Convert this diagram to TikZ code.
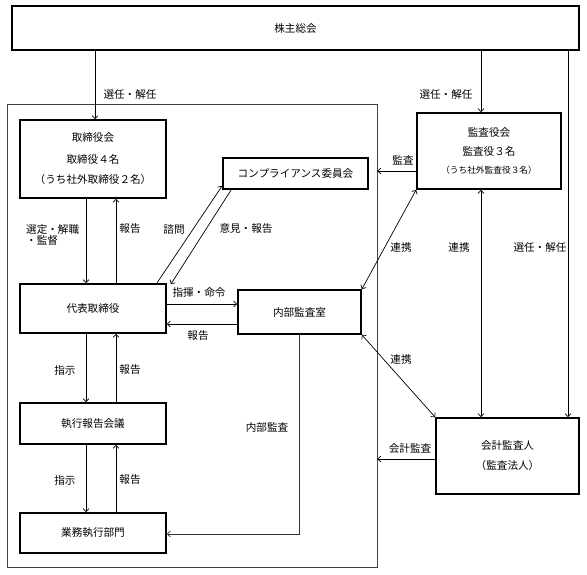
\documentclass[tikz,border=0pt]{standalone}
\usepackage{fontspec}
\newfontfamily\jp{Noto Sans CJK JP}
\usetikzlibrary{arrows.meta}
\begin{document}
\begin{tikzpicture}[x=1pt,y=-1pt,
  font=\jp\fontsize{10.6}{12}\selectfont,
  box/.style={draw, line width=1.7pt, inner sep=0pt, align=center},
  arr/.style={line width=0.7pt, -{Straight Barb[length=3pt,width=6pt]}},
  arrb/.style={line width=0.7pt, {Straight Barb[length=3pt,width=6pt]}-{Straight Barb[length=3pt,width=6pt]}},
  lab/.style={inner sep=0pt}]
\useasboundingbox (0,0) rectangle (587,575);
% outer organisation frame
\node[draw=black!75, line width=0.7pt, minimum width=370pt, minimum height=463pt, inner sep=0pt] (org) at (192,335.5) {};
% boxes
\node[box, minimum width=567pt, minimum height=44pt] (sh) at (295.5,28) {株主総会};
\node[box, minimum width=146pt, minimum height=78pt] (bod) at (93,159) {取締役会\\[10pt]取締役４名\\[8pt]（うち社外取締役２名）};
\node[box, minimum width=145pt, minimum height=31pt] (comp) at (295.5,173.5) {コンプライアンス委員会};
\node[box, minimum width=146pt, minimum height=49pt] (ceo) at (93,308.5) {代表取締役};
\node[box, minimum width=123pt, minimum height=44pt] (ia) at (299.5,312) {内部監査室};
\node[box, minimum width=144pt, minimum height=76pt] (kansa) at (489,151) {監査役会\\[7pt]監査役３名\\[6pt]{\fontsize{8.7}{10}\selectfont （うち社外監査役３名）}};
\node[box, minimum width=143pt, minimum height=76pt] (audit) at (507.5,456) {会計監査人\\[8pt]（監査法人）};
\node[box, minimum width=146pt, minimum height=41pt] (exec) at (93,423.5) {執行報告会議};
\node[box, minimum width=146pt, minimum height=40pt] (biz) at (93,533) {業務執行部門};
% helper coordinates
\coordinate (xa) at (95,0);
\coordinate (xb) at (481,0);
\coordinate (xc) at (568,0);
\coordinate (xd) at (86,0);
\coordinate (xu) at (116,0);
\coordinate (xi) at (299,0);
\coordinate (y1) at (0,304);
\coordinate (y2) at (0,324);
\coordinate (y3) at (0,171);
\coordinate (y4) at (0,459);
\coordinate (y5) at (0,534);
% connectors
\draw[arr] (sh.south -| xa) -- (bod.north -| xa);
\draw[arr] (sh.south -| xb) -- (kansa.north -| xb);
\draw[arr] (sh.south -| xc) -- (audit.north -| xc);
\draw[arr] (bod.south -| xd) -- (ceo.north -| xd);
\draw[arr] (ceo.north -| xu) -- (bod.south -| xu);
\draw[arr] ([xshift=-10pt]ceo.north east) -- ([yshift=4pt]comp.south west);
\draw[arr] ([xshift=9pt]comp.south west) -- ([xshift=4pt,yshift=-1pt]ceo.north east);
\draw[arr] (ceo.east |- y1) -- (ia.west |- y1);
\draw[arr] (ia.west |- y2) -- (ceo.east |- y2);
\draw[arr] (kansa.west |- y3) -- (org.east |- y3);
\draw[arrb] (kansa.south west) -- (ia.north east);
\draw[arrb] (kansa.south -| xb) -- (audit.north -| xb);
\draw[arrb] (ia.south east) -- (audit.north west);
\draw[arr] (audit.west |- y4) -- (org.east |- y4);
\draw[arr, draw=black!80] (ia.south -| xi) -- (xi |- y5) -- (biz.east |- y5);
\draw[arr] (ceo.south -| xd) -- (exec.north -| xd);
\draw[arr] (exec.north -| xu) -- (ceo.south -| xu);
\draw[arr] (exec.south -| xd) -- (biz.north -| xd);
\draw[arr] (biz.north -| xu) -- (exec.south -| xu);
% labels
\node[lab] (l1) at (130,94) {選任・解任};
\node[lab] (l2) at (446,94) {選任・解任};
\node[lab, align=left, anchor=west] (l3) at (26,235) {選定・解職\\[-1pt]・監督};
\node[lab] (l4) at (130,229) {報告};
\node[lab] (l5) at (174,229) {諮問};
\node[lab] (l6) at (246,229) {意見・報告};
\node[lab] (l7) at (199,292) {指揮・命令};
\node[lab] (l8) at (198,336) {報告};
\node[lab] (l9) at (403,160) {監査};
\node[lab] (l10) at (401,247) {連携};
\node[lab] (l11) at (459,247) {連携};
\node[lab] (l12) at (540,247) {選任・解任};
\node[lab] (l13) at (401,359) {連携};
\node[lab] (l14) at (267,427) {内部監査};
\node[lab] (l15) at (410,448) {会計監査};
\node[lab] (l16) at (65,370) {指示};
\node[lab] (l17) at (130,370) {報告};
\node[lab] (l18) at (65,480) {指示};
\node[lab] (l19) at (130,480) {報告};
\end{tikzpicture}
\end{document}
